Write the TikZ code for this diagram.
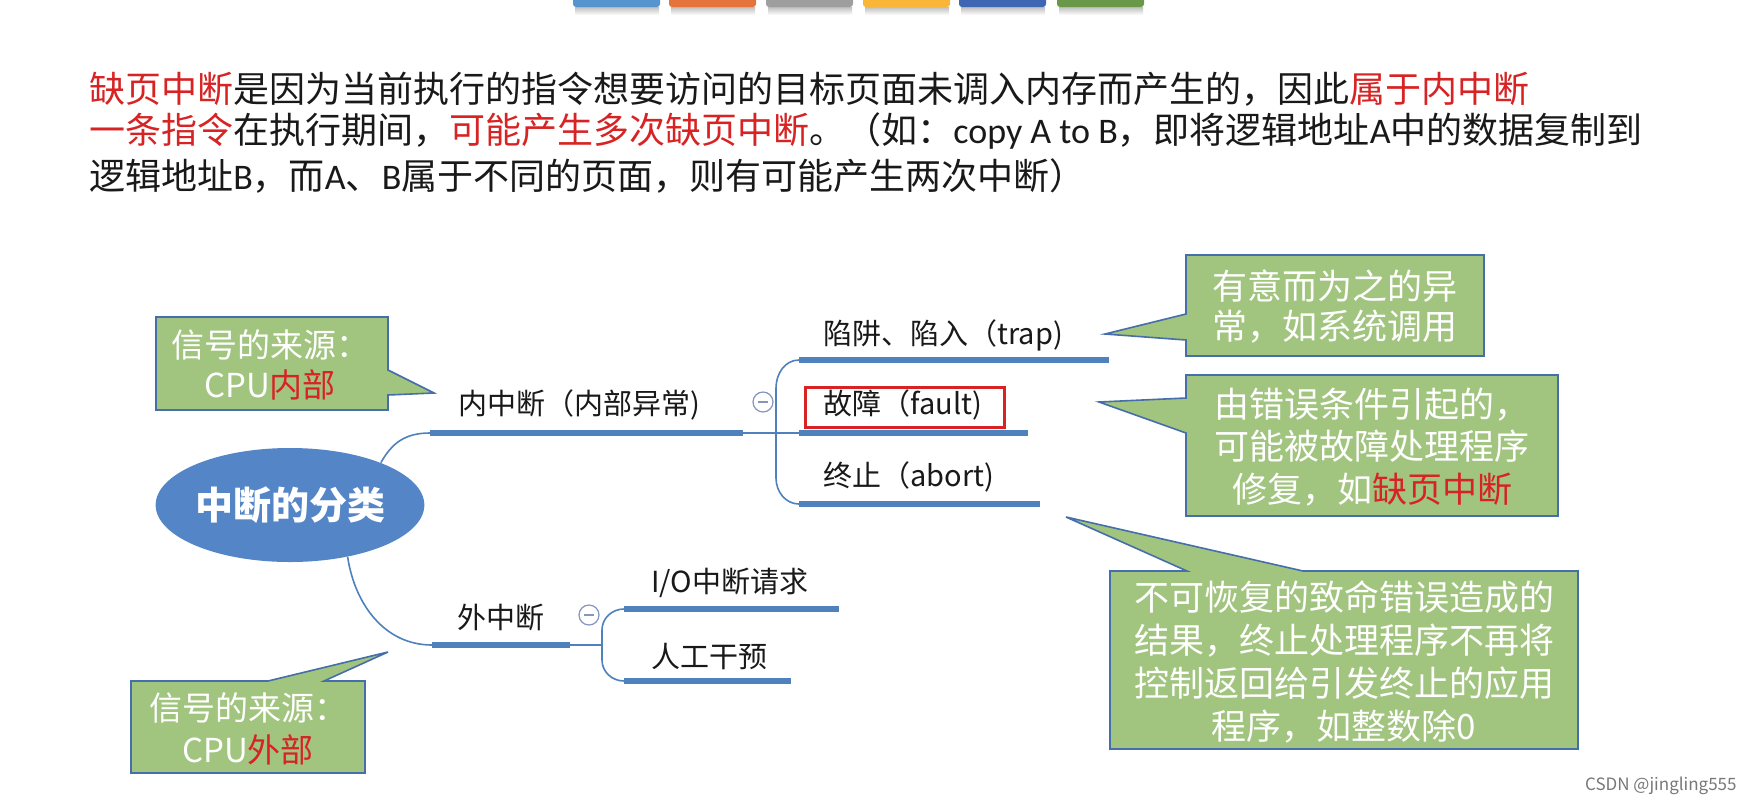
\documentclass[tikz,border=0pt]{standalone}
\usepackage{fontspec}
\setmainfont{Noto Sans CJK SC}
\newfontfamily\lat{Carlito}
\usetikzlibrary{shapes.geometric}
\definecolor{mapblue}{RGB}{79,129,189}
\definecolor{rootblue}{RGB}{84,133,199}
\definecolor{callfill}{RGB}{161,196,126}
\definecolor{callline}{RGB}{70,110,170}
\definecolor{hred}{RGB}{215,35,35}
\definecolor{txt}{RGB}{25,25,25}
\definecolor{wmgray}{RGB}{120,120,120}
\definecolor{barA}{RGB}{85,148,205}
\definecolor{barB}{RGB}{228,115,60}
\definecolor{barC}{RGB}{158,158,158}
\definecolor{barD}{RGB}{250,182,55}
\definecolor{barE}{RGB}{62,102,178}
\definecolor{barF}{RGB}{105,152,72}
\definecolor{foldline}{RGB}{130,150,190}
\begin{document}
\begin{tikzpicture}[x=0.5pt,y=-0.5pt,
  ul/.style={line width=3pt, draw=mapblue},
  conn/.style={line width=0.8pt, draw=mapblue},
  item/.style={anchor=west, inner sep=0pt, text=txt, font=\fontsize{14.5}{17}\selectfont},
  callbox/.style={fill=callfill, draw=callline, line width=0.8pt, line join=miter},
  calltext/.style={text=white, align=center, inner sep=0pt},
  toptext/.style={anchor=west, inner sep=0pt, text=txt, font=\fontsize{18}{22}\selectfont},
  fold/.style={circle, draw=foldline, fill=white, line width=0.6pt, minimum size=10pt, inner sep=0pt}
]
\fill[white] (0,0) rectangle (1753,805);
\useasboundingbox (0,0) rectangle (1753,805);

% top colour bars
\foreach \x/\c in {573/barA,669/barB,766/barC,863/barD,959/barE,1057/barF}{
  \shade[top color=black!25, bottom color=white] (\x+2,7) rectangle ++(84,8);
  \fill[\c, rounded corners=1.5pt] (\x,-6) rectangle ++(87,13);
}

% top text
\node[toptext] (l1) at (89,89) {\textcolor{hred}{缺页中断}是因为当前执行的指令想要访问的目标页面未调入内存而产生的，因此\textcolor{hred}{属于内中断}};
\node[toptext] (l2) at (89,131) {\textcolor{hred}{一条指令}在执行期间，\textcolor{hred}{可能产生多次缺页中断}。（如：{\lat copy A to B}，即将逻辑地址{\lat A}中的数据复制到};
\node[toptext] (l3) at (89,176) {逻辑地址{\lat B}，而{\lat A}、{\lat B}属于不同的页面，则有可能产生两次中断）};

% root
\node[ellipse, fill=rootblue, minimum width=127.5pt, minimum height=57pt, inner sep=0pt,
  text=white, font=\bfseries\fontsize{19}{22}\selectfont] (root) at (290,505) {中断的分类};

% coordinates of underlines
\coordinate (inL) at (430,433); \coordinate (inR) at (743,433);
\coordinate (trapL) at (799,360); \coordinate (trapR) at (1109,360);
\coordinate (faultL) at (799,433); \coordinate (faultR) at (1028,433);
\coordinate (abortL) at (799,504); \coordinate (abortR) at (1040,504);
\coordinate (outL) at (432,645); \coordinate (outR) at (570,645);
\coordinate (ioL) at (624,609); \coordinate (ioR) at (839,609);
\coordinate (manL) at (624,681); \coordinate (manR) at (791,681);
\coordinate (brA1) at (776,388); \coordinate (brA2) at (776,478);
\coordinate (brB1) at (602,630); \coordinate (brB2) at (602,660);
\coordinate (brBm) at (602,645);

% connectors
\draw[conn] (root.25) .. controls (392,443) and (405,433) .. (inL);
\draw[conn] (root.-42) .. controls (355,605) and (385,645) .. (outL);
\draw[conn] (inR) -- (faultL);
\draw[conn] (trapL) to[out=180,in=90] (brA1) -- (brA2) to[out=-90,in=180] (abortL);
\draw[conn] (outR) -- (brBm);
\draw[conn] (ioL) to[out=180,in=90] (brB1) -- (brB2) to[out=-90,in=180] (manL);

% underlines
\draw[ul] (inL) -- (inR);
\draw[ul] (trapL) -- (trapR);
\draw[ul] (faultL) -- (faultR);
\draw[ul] (abortL) -- (abortR);
\draw[ul] (outL) -- (outR);
\draw[ul] (ioL) -- (ioR);
\draw[ul] (manL) -- (manR);

% fold markers
\node[fold] (f1) at (763,402) {};
\draw[foldline, line width=0.7pt] ([xshift=-2.5pt]f1.center) -- ([xshift=2.5pt]f1.center);
\node[fold] (f2) at (589,615) {};
\draw[foldline, line width=0.7pt] ([xshift=-2.5pt]f2.center) -- ([xshift=2.5pt]f2.center);

% item texts
\node[item] (inT) at (458,405) {内中断（内部异常)};
\node[item] (trapT) at (823,335) {陷阱、陷入（trap)};
\node[item] (faultT) at (823,405) {故障（fault)};
\node[item] (abortT) at (823,477) {终止（abort)};
\node[item] (outT) at (457,618) {外中断};
\node[item] (ioT) at (651,583) {I/O中断请求};
\node[item] (manT) at (651,656) {人工干预};

\draw[hred, line width=1.5pt] (805,387) rectangle (1004,427);

% callouts
\draw[callbox] (156,317) -- (388,317) -- (388,370) -- (434,393) -- (388,395) -- (388,410) -- (156,410) -- cycle;
\node[calltext, font=\fontsize{16.5}{20}\selectfont] (c1) at (270,365) {信号的来源：\\CPU\textcolor{hred}{内部}};

\draw[callbox] (131,681) -- (268,681) -- (388,652) -- (324,681) -- (365,681) -- (365,773) -- (131,773) -- cycle;
\node[calltext, font=\fontsize{16.5}{21}\selectfont] (c2) at (248,729) {信号的来源：\\CPU\textcolor{hred}{外部}};

\draw[callbox] (1186,255) -- (1484,255) -- (1484,356) -- (1186,356) -- (1186,340) -- (1105,334) -- (1186,314) -- cycle;
\node[calltext, font=\fontsize{17.5}{20}\selectfont] (c3) at (1335,307) {有意而为之的异\\常，如系统调用};

\draw[callbox] (1186,375) -- (1558,375) -- (1558,516) -- (1186,516) -- (1186,433) -- (1099,402) -- (1186,398) -- cycle;
\node[calltext, font=\fontsize{17.5}{21.25}\selectfont] (c4) at (1372,447) {由错误条件引起的，\\可能被故障处理程序\\修复，如\textcolor{hred}{缺页中断}};

\draw[callbox] (1110,571) -- (1187,571) -- (1066,517) -- (1303,571) -- (1578,571) -- (1578,749) -- (1110,749) -- cycle;
\node[calltext, font=\fontsize{17.5}{21.5}\selectfont] (c5) at (1344,662) {不可恢复的致命错误造成的\\结果，终止处理程序不再将\\控制返回给引发终止的应用\\程序，如整数除0};

% watermark
\node[anchor=east, inner sep=0pt, text=wmgray, font=\fontsize{8.5}{10}\selectfont] (wm) at (1737,786) {CSDN @jingling555};
\end{tikzpicture}
\end{document}
